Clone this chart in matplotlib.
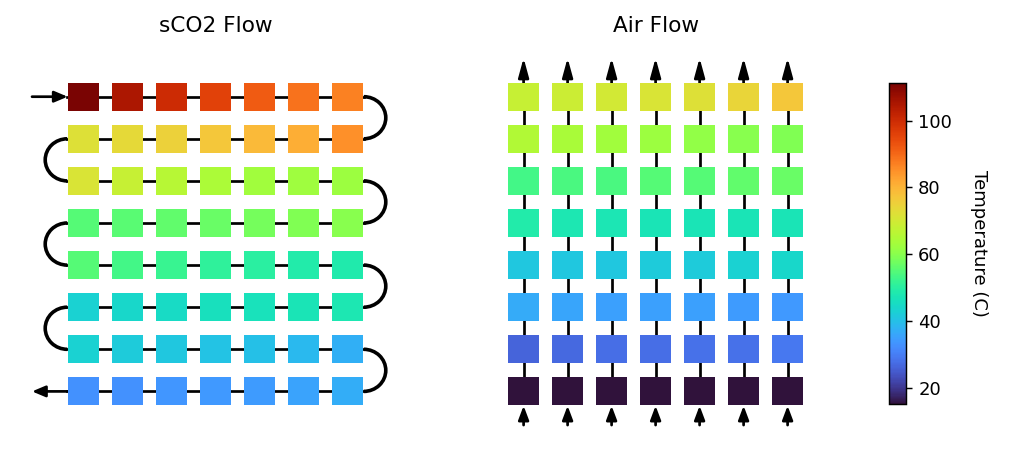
import numpy as np
import matplotlib
matplotlib.use('Agg')
import matplotlib.pyplot as plt
from matplotlib.cm import ScalarMappable
from matplotlib.colors import Normalize
from matplotlib.patches import Arc

# temperature per node (C), rows top to bottom
sco2_temps = [
    [111, 105, 100, 96, 92, 89, 87],
    [72, 73.5, 75, 77, 79, 81, 85],
    [71, 68, 66, 64.5, 63, 62.5, 62],
    [55, 55.5, 56, 57, 58, 59, 60],
    [55, 53, 52, 51, 50, 49, 48.5],
    [43, 44, 45, 46, 46.5, 47, 48],
    [43, 42, 41, 40.5, 40, 39, 37.5],
    [33, 33, 33.5, 34, 34.5, 35.5, 37],
]
air_temps = [
    [68, 69, 70, 71, 72, 74, 77],
    [65, 64, 63, 62, 61, 60, 59],
    [53, 54, 54, 55, 55, 56, 57],
    [49, 48, 47.5, 47, 47, 47, 47],
    [41, 41, 41, 42, 42, 43, 44],
    [36.5, 36, 35, 35, 35, 34.5, 34],
    [26, 27, 27.5, 27.5, 28, 28, 29],
    [15, 15, 15, 15, 15, 15, 15],
]
vmin, vmax = 15, 111.2
cbar_ticks = [20, 40, 60, 80, 100]

W, H = 1026, 452
DPI = 130
BOX_W, BOX_H = 0.71, 0.665

norm = Normalize(vmin, vmax)
cmap = plt.get_cmap('turbo')


def px_axes(fig, x0, y0, x1, y1):
    # axes from pixel box, y measured from the top of the image
    return fig.add_axes([x0 / W, 1 - y1 / H, (x1 - x0) / W, (y1 - y0) / H])


def arrow(ax, start, end, head_w=0.16, head_l=0.38):
    ax.annotate('', xy=end, xytext=start, zorder=1,
                arrowprops=dict(arrowstyle=f'-|>,head_width={head_w},head_length={head_l}',
                                color='k', lw=1.5, shrinkA=0, shrinkB=0,
                                mutation_scale=16))


def draw_boxes(ax, temps):
    temps = np.array(temps)
    rows, cols = np.indices(temps.shape)
    ax.bar(cols.ravel(), BOX_H, BOX_W, bottom=rows.ravel() - BOX_H / 2,
           color=cmap(norm(temps.ravel())), zorder=3)
    ax.set_xlim(-1.5, 7.5)
    ax.set_ylim(8, -1)
    ax.axis('off')


fig = plt.figure(figsize=(W / DPI, H / DPI), dpi=DPI)

# sCO2 side, serpentine path
ax1 = px_axes(fig, 17.5, 54.6, 413.5, 433.5)
draw_boxes(ax1, sco2_temps)
n_rows, n_cols = np.array(sco2_temps).shape
for r in range(n_rows):
    ax1.plot([-0.37, n_cols - 1 + 0.37], [r, r], color='k', lw=1.5, zorder=1)
for r in range(n_rows - 1):
    if r % 2 == 0:
        cx, t1, t2 = n_cols - 1 + 0.37, -90, 90
    else:
        cx, t1, t2 = -0.37, 90, 270
    ax1.add_patch(Arc((cx, r + 0.5), 2 * 22 / 44, 1, theta1=t1, theta2=t2,
                      color='k', lw=2, zorder=1))
arrow(ax1, (-1.17, 0), (-0.36, 0))
arrow(ax1, (-0.36, n_rows - 1), (-1.17, n_rows - 1))
ax1.set_title('sCO2 Flow', pad=12.5)

# air side, straight up through each column
ax2 = px_axes(fig, 457.6, 54.6, 853.6, 433.5)
draw_boxes(ax2, air_temps)
for c in range(n_cols):
    ax2.plot([c, c], [n_rows - 1, 0], color='k', lw=1.5, zorder=1)
    arrow(ax2, (c, -0.3), (c, -0.92), head_w=0.15, head_l=0.55)
    arrow(ax2, (c, n_rows - 1 + 0.8), (c, n_rows - 1 + 0.34), head_w=0.15, head_l=0.4)
ax2.set_title('Air Flow', pad=12.5)

cax = px_axes(fig, 889.3, 83.3, 905.5, 404.3)
cb = fig.colorbar(ScalarMappable(norm=norm, cmap=cmap), cax=cax, ticks=cbar_ticks)
cb.set_label('Temperature (C)', rotation=270, labelpad=20)

fig.savefig('out.png', dpi=DPI)
